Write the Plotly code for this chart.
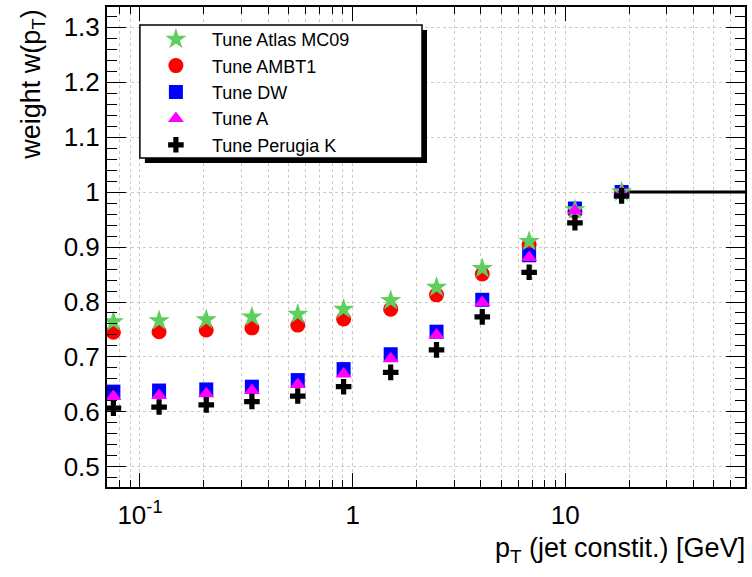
import plotly.graph_objects as go

# pT bin centres of the jet constituents [GeV]
pt = [0.075, 0.123, 0.205, 0.336, 0.552, 0.907, 1.51, 2.48, 4.07, 6.76, 11.1, 18.4]

# weight w(pT) for each Pythia tune
w_mc09 = [0.764, 0.766, 0.768, 0.773, 0.778, 0.787, 0.803, 0.827, 0.861, 0.910, 0.968, 1.000]
w_ambt1 = [0.745, 0.746, 0.749, 0.753, 0.758, 0.769, 0.787, 0.813, 0.851, 0.904, 0.965, 1.000]
w_dw = [0.637, 0.639, 0.641, 0.646, 0.658, 0.678, 0.705, 0.746, 0.804, 0.885, 0.970, 1.000]
w_a = [0.628, 0.630, 0.633, 0.639, 0.650, 0.669, 0.697, 0.740, 0.799, 0.881, 0.966, 0.998]
w_perugia = [0.607, 0.609, 0.613, 0.619, 0.629, 0.646, 0.672, 0.713, 0.773, 0.854, 0.944, 0.993]

# weight fixed to unity above 20 GeV
flat_pt = [20, 70]
flat_w = [1, 1]

x_tickvals = [0.1, 1, 10]
x_ticktext = ["10<sup>-1</sup>", "1", "10"]
y_tickvals = [0.5, 0.6, 0.7, 0.8, 0.9, 1.0, 1.1, 1.2, 1.3]
y_ticktext = ["0.5", "0.6", "0.7", "0.8", "0.9", "1", "1.1", "1.2", "1.3"]

FONT = "Liberation Sans, Arial, sans-serif"
GRID = "#cccccc"

fig = go.Figure()

# (name, values, symbol, colour, size, legend rank) -- drawn in this order
series = [
    ("Tune AMBT1", w_ambt1, "circle", "#ff0000", 15, 2),
    ("Tune DW", w_dw, "square", "#0000ff", 14, 3),
    ("Tune Atlas MC09", w_mc09, "star", "#5ccf5c", 16, 1),
    ("Tune A", w_a, "triangle-up", "#ff00ff", 14, 4),
    ("Tune Perugia K", w_perugia, "cross", "#000000", 13, 5),
]
for name, vals, sym, col, size, rank in series:
    fig.add_trace(go.Scatter(
        x=pt, y=vals, mode="markers", name=name, legendrank=rank,
        marker=dict(symbol=sym, color=col, size=size, line=dict(width=0)),
    ))

fig.add_trace(go.Scatter(
    x=flat_pt, y=flat_w, mode="lines", showlegend=False,
    line=dict(color="black", width=3),
))

# minor ticks on the log axis: 2..9 times each decade
x_minor = [m * 10.0 ** e for e in (-2, -1, 0, 1) for m in range(2, 10)]

fig.update_xaxes(
    type="log", range=[-1.155, 1.845],
    tickmode="array", tickvals=x_tickvals, ticktext=x_ticktext,
    ticks="inside", ticklen=14, tickwidth=1, tickcolor="black",
    ticklabelstandoff=4,
    showline=True, linecolor="black", linewidth=2, mirror="allticks",
    showgrid=True, gridcolor=GRID, griddash="dot", gridwidth=1,
    minor=dict(tickmode="array", tickvals=x_minor, ticks="inside", ticklen=7,
               tickcolor="black", showgrid=True, gridcolor=GRID, griddash="dot"),
    tickfont=dict(family=FONT, size=26, color="black"),
    zeroline=False,
)
fig.update_yaxes(
    range=[0.4636, 1.3364],
    tickmode="array", tickvals=y_tickvals, ticktext=y_ticktext,
    ticks="inside", ticklen=19, tickwidth=1, tickcolor="black",
    showline=True, linecolor="black", linewidth=2, mirror="allticks",
    showgrid=True, gridcolor=GRID, griddash="dot", gridwidth=1,
    minor=dict(dtick=0.02, tick0=0.5, ticks="inside", ticklen=10,
               tickcolor="black", showgrid=False),
    tickfont=dict(family=FONT, size=26, color="black"),
    zeroline=False,
)

# helpers: pixel position -> paper fraction of the plot area
L, R, T, B = 107, 747, 7, 487
def px(x):
    return (x - L) / (R - L)
def py(y):
    return (B - y) / (B - T)

# legend frame with drop shadow
fig.add_shape(type="rect", xref="paper", yref="paper", layer="above",
              x0=px(145), x1=px(428), y0=py(163), y1=py(30),
              fillcolor="black", line=dict(width=0))
fig.add_shape(type="rect", xref="paper", yref="paper", layer="above",
              x0=px(140), x1=px(423), y0=py(158), y1=py(25),
              fillcolor="white", line=dict(color="black", width=1.5))

fig.update_layout(
    width=752, height=577,
    margin=dict(l=L, r=752 - R, t=T, b=577 - B),
    paper_bgcolor="white", plot_bgcolor="white",
    font=dict(family=FONT, color="black"),
    legend=dict(
        x=px(140), y=py(21), xanchor="left", yanchor="top",
        bgcolor="rgba(0,0,0,0)", borderwidth=0,
        font=dict(family=FONT, size=18, color="black"),
        itemwidth=62, tracegroupgap=0,
    ),
    annotations=[
        dict(text="p<sub>T</sub> (jet constit.) [GeV]", xref="paper", yref="paper",
             x=px(749), y=py(531), xanchor="right", yanchor="top", showarrow=False,
             font=dict(family=FONT, size=27, color="black")),
        dict(text="weight w(p<sub>T</sub>)", xref="paper", yref="paper",
             x=px(32), y=py(7), xanchor="center", yanchor="top", showarrow=False,
             textangle=-90, font=dict(family=FONT, size=27, color="black")),
    ],
)

fig.write_html("out.html")
